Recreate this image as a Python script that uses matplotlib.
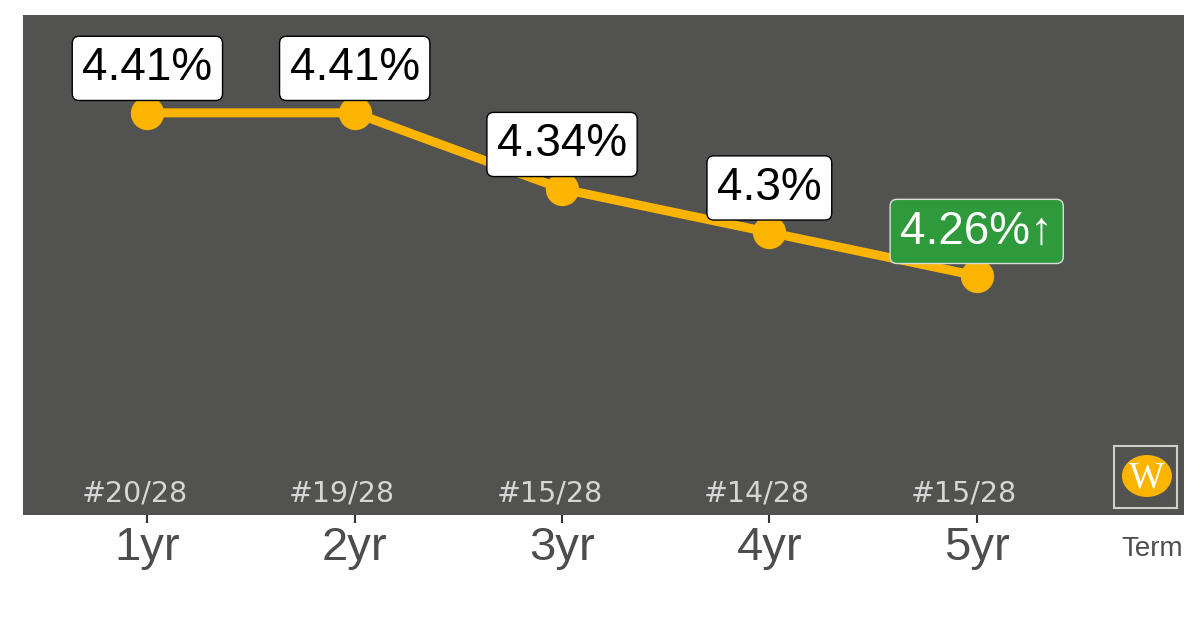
import matplotlib.pyplot as plt
from matplotlib.patches import Ellipse, Rectangle

terms = ['1yr', '2yr', '3yr', '4yr', '5yr']
rates = [4.41, 4.41, 4.34, 4.30, 4.26]
rate_labels = ['4.41%', '4.41%', '4.34%', '4.3%', '4.26%\u2191']
ranks = ['#20/28', '#19/28', '#15/28', '#14/28', '#15/28']
highlight = [False, False, False, False, True]

bg = '#525250'
line_col = '#FBB400'
green = '#2F9A3B'
font = ['Liberation Sans', 'DejaVu Sans']

fig = plt.figure(figsize=(12, 6.28), dpi=100)
ax = fig.add_axes([23 / 1200, 113 / 628, 1161 / 1200, 500 / 628])
ax.set_facecolor(bg)
for s in ax.spines.values():
    s.set_visible(False)

x = list(range(1, len(terms) + 1))
ax.plot(x, rates, color=line_col, lw=6.5, zorder=2, solid_capstyle='round')
ax.scatter(x, rates, s=24 ** 2, color=line_col, zorder=3, linewidths=0)

for xi, r, lab, hi in zip(x, rates, rate_labels, highlight):
    fc = green if hi else 'white'
    tc = 'white' if hi else 'black'
    ec = '#dddddd' if hi else 'black'
    ax.annotate(lab, (xi, r), xytext=(0, 32), textcoords='offset points',
                ha='center', va='center', fontsize=33, color=tc, family=font,
                zorder=4,
                bbox=dict(boxstyle='round,pad=0.22,rounding_size=0.15',
                          fc=fc, ec=ec, lw=1.0))

# rank labels sit a little left of each tick
for xi, rk in zip(x, ranks):
    ax.annotate(rk, (xi, 0.044), xycoords=ax.get_xaxis_transform(),
                xytext=(-9, 0), textcoords='offset points', ha='center',
                va='center', fontsize=20.5, color='#d6d6d6',
                family='DejaVu Sans')

ax.set_xlim(0.4, 6.0)
ax.set_ylim(4.04, 4.50)
ax.set_xticks(x)
ax.set_xticklabels(terms, fontsize=34, color='#4d4d4d', family=font)
ax.tick_params(axis='x', length=6, width=1.5, color='#333333', pad=2)
ax.set_yticks([])

fig.text(1183 / 1200, 1 - 549 / 628, 'Term', ha='right', va='center',
         fontsize=20, color='#4d4d4d', family=font)

# logo
ax.add_patch(Rectangle((0.9397, 0.014), 0.0543, 0.124, transform=ax.transAxes,
                       fill=False, ec='#cfcfcf', lw=1.5, zorder=5))
ax.add_patch(Ellipse((0.9681, 0.078), 0.0431, 0.084, transform=ax.transAxes,
                     fc=line_col, ec='none', angle=0, zorder=5))
ax.text(0.9681, 0.074, 'W', transform=ax.transAxes, ha='center', va='center',
        fontsize=27, color='white', family='Liberation Serif', zorder=6)

fig.savefig('out.png', dpi=100, facecolor='white')
